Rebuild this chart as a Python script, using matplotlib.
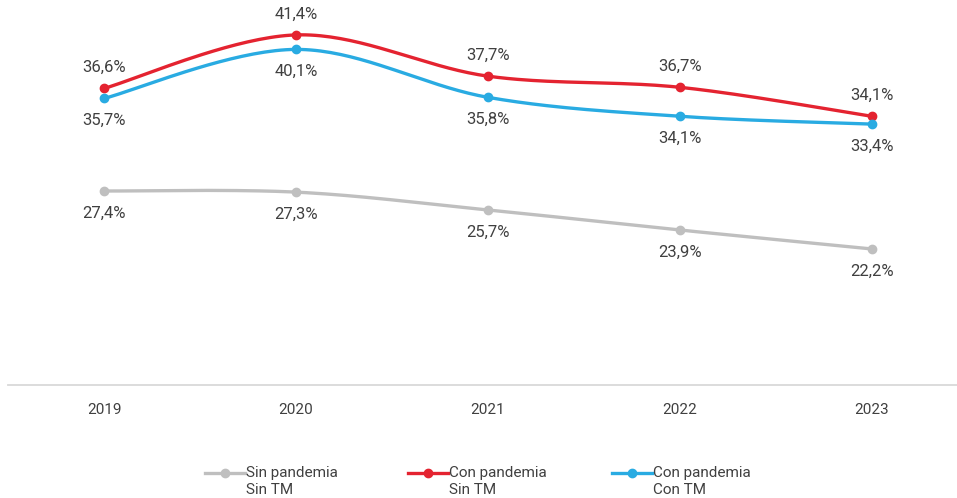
import numpy as np
import matplotlib
matplotlib.use("Agg")
import matplotlib.pyplot as plt
from matplotlib.lines import Line2D

years = ["2019", "2020", "2021", "2022", "2023"]
sin_pandemia = [27.4, 27.3, 25.7, 23.9, 22.2]
con_pand_sin_tm = [36.6, 41.4, 37.7, 36.7, 34.1]
con_pand_con_tm = [35.7, 40.1, 35.8, 34.1, 33.4]

gray = "#bfbfbf"
red = "#e42330"
blue = "#29abe2"
txt = "#404040"

plt.rcParams["font.family"] = ["Roboto", "DejaVu Sans"]


def smooth(x, y, n=40):
    # excel style smoothed line: cubic bezier through points
    x = np.asarray(x, float)
    y = np.asarray(y, float)
    px = np.concatenate([[x[0]], x, [x[-1]]])
    py = np.concatenate([[y[0]], y, [y[-1]]])
    xs, ys = [], []
    t = np.linspace(0, 1, n)
    for i in range(len(x) - 1):
        p0 = np.array([px[i + 1], py[i + 1]])
        p3 = np.array([px[i + 2], py[i + 2]])
        c1 = p0 + (np.array([px[i + 2], py[i + 2]]) - np.array([px[i], py[i]])) / 6
        c2 = p3 - (np.array([px[i + 3], py[i + 3]]) - np.array([px[i + 1], py[i + 1]])) / 6
        b = ((1 - t) ** 3)[:, None] * p0 + (3 * (1 - t) ** 2 * t)[:, None] * c1 \
            + (3 * (1 - t) * t ** 2)[:, None] * c2 + (t ** 3)[:, None] * p3
        xs.extend(b[:, 0])
        ys.extend(b[:, 1])
    return np.array(xs), np.array(ys)


fig = plt.figure(figsize=(9.57, 4.98), dpi=100)
ax = fig.add_axes([8 / 957, 113 / 498, 960 / 957, 390 / 498])

x = np.arange(len(years))
series = [
    (sin_pandemia, gray, "below"),
    (con_pand_sin_tm, red, "above"),
    (con_pand_con_tm, blue, "below"),
]
for vals, col, pos in series:
    sx, sy = smooth(x, vals)
    ax.plot(sx, sy, color=col, lw=2.4, solid_capstyle="round", zorder=3)
    ax.plot(x, vals, "o", color=col, ms=6, zorder=4)
    for xi, v in zip(x, vals):
        lab = f"{v:.1f}%".replace(".", ",")
        off = 15 if pos == "above" else -16
        ax.annotate(lab, (xi, v), xytext=(0, off), textcoords="offset points",
                    ha="center", va="center", fontsize=12, color=txt)

ax.set_xlim(-0.5, 4.5)
ax.set_ylim(10, 44.98)
ax.set_yticks([])
ax.set_xticks(x)
ax.set_xticklabels(years, fontsize=11, color=txt)
ax.tick_params(axis="x", length=0, pad=13)
for s in ["top", "right", "left"]:
    ax.spines[s].set_visible(False)
ax.spines["bottom"].set_color("#d9d9d9")
ax.spines["bottom"].set_linewidth(1.3)

# legend drawn by hand so the handle sits on the first text line
labels = ["Sin pandemia\nSin TM", "Con pandemia\nSin TM", "Con pandemia\nCon TM"]
leg_x = [205, 408, 612]
for lx, col, lab in zip(leg_x, (gray, red, blue), labels):
    y0 = 1 - 473 / 498
    fig.add_artist(Line2D([lx / 957, (lx + 40) / 957], [y0, y0], color=col, lw=2.4,
                          transform=fig.transFigure))
    fig.add_artist(Line2D([(lx + 20) / 957], [y0], color=col, marker="o", ms=6,
                          transform=fig.transFigure))
    fig.text((lx + 41) / 957, 1 - 466 / 498, lab, ha="left", va="top", fontsize=11,
             color=txt, linespacing=1.3)

fig.savefig("out.png", dpi=100)
